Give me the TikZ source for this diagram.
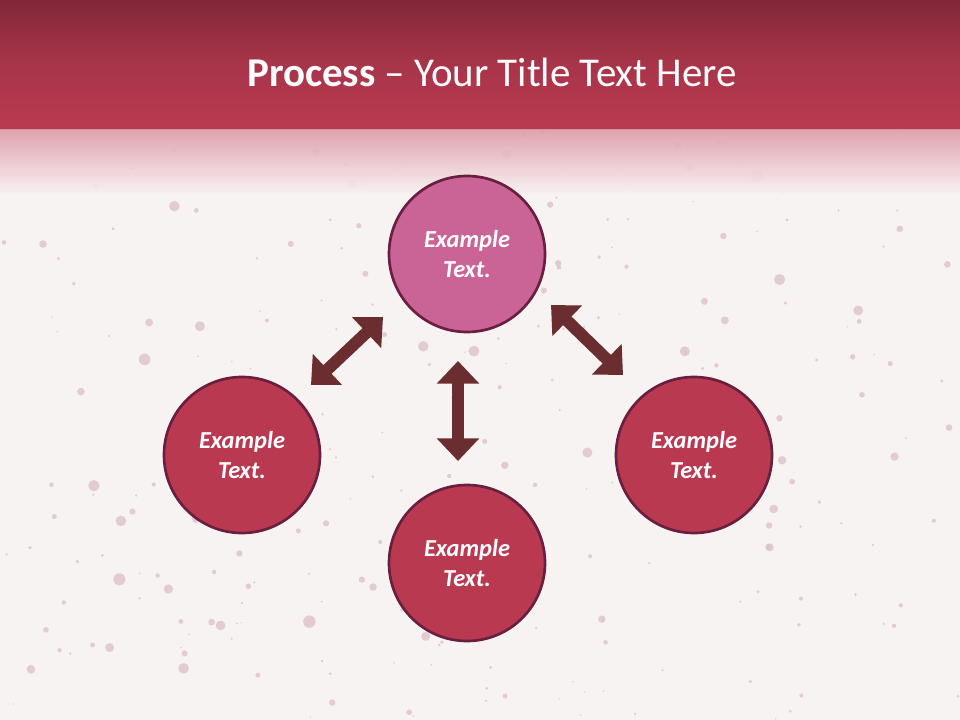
\documentclass[tikz,border=0pt]{standalone}
\usepackage{fontspec}
\setmainfont{Carlito}
\usetikzlibrary{arrows.meta}
\definecolor{bg}{HTML}{F8F3F3}
\definecolor{bandtop}{HTML}{822739}
\definecolor{bandbot}{HTML}{B83A50}
\definecolor{fadetop}{HTML}{DE9CA8}
\definecolor{splat}{HTML}{DDC3C7}
\definecolor{topfill}{HTML}{CA6496}
\definecolor{mainfill}{HTML}{B93A50}
\definecolor{rim}{HTML}{6A1E40}
\definecolor{arr}{HTML}{6B2E30}
\tikzset{
  bubble/.style={circle, minimum size=156*0.75pt, inner sep=0pt, draw=rim, line width=2pt,
    text=white, font=\fontsize{18.3}{22}\selectfont\bfseries\itshape, align=center},
  blockarrow/.style={draw=arr, line width=9pt,
    {Triangle[width=31pt,length=17pt]}-{Triangle[width=31pt,length=17pt]}},
  titletext/.style={text=white, font=\fontsize{30.7}{36}\selectfont, anchor=base}
}
\begin{document}
\begin{tikzpicture}[x=0.75pt,y=-0.75pt]
\useasboundingbox (0,0) rectangle (960,720);
\fill[bg] (0,0) rectangle (960,720);
% splatter texture
\pgfmathsetseed{7}
\foreach \i in {1,...,260}{
  \pgfmathsetmacro{\px}{rnd*960}
  \pgfmathsetmacro{\py}{130+rnd*590}
  \pgfmathsetmacro{\pr}{0.8+rnd*rnd*6}
  \fill[splat, opacity=0.8] (\px,\py) circle[radius=\pr];
}
% header band
\shade[top color=bandtop, bottom color=bandbot, middle color=bandbot!70!bandtop] (0,0) rectangle (960,126);
\fill[bandbot] (0,125) rectangle (960,130);
\shade[top color=fadetop, bottom color=bg, opacity=0.9] (0,130) rectangle (960,195);
\node[titletext] (title) at (492,87) {\textbf{Process} – Your Title Text Here};
% circles
\node[bubble, fill=topfill] (top) at (467,254) {Example\\Text.};
\node[bubble, fill=mainfill] (left) at (242,455) {Example\\Text.};
\node[bubble, fill=mainfill] (right) at (694,455) {Example\\Text.};
\node[bubble, fill=mainfill] (bottom) at (467,563) {Example\\Text.};
% arrows
\coordinate (la) at (311,385);
\coordinate (lb) at (383,317);
\coordinate (ra) at (551,305);
\coordinate (rb) at (623,375);
\coordinate (va) at (458,361);
\coordinate (vb) at (458,461);
\draw[blockarrow] (la) -- (lb);
\draw[blockarrow] (ra) -- (rb);
\draw[blockarrow] (va) -- (vb);
\end{tikzpicture}
\end{document}
